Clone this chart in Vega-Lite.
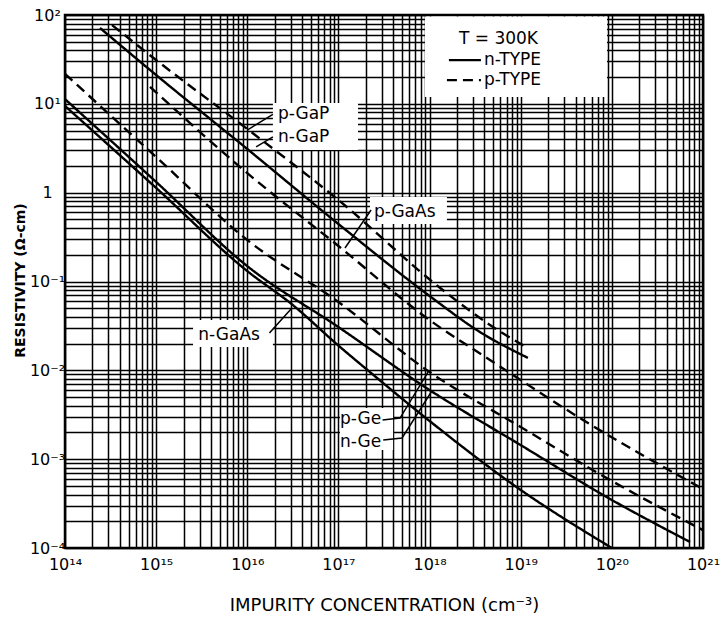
{
  "$schema": "https://vega.github.io/schema/vega-lite/v6.json",
  "width": 638,
  "height": 533,
  "autosize": {"type": "none"},
  "padding": {"left": 65, "top": 15, "right": 21, "bottom": 70},
  "background": "white",
  "config": {
    "view": {"stroke": "#000", "strokeWidth": 2.5},
    "font": "DejaVu Sans",
    "axis": {
      "grid": true, "gridColor": "#000", "gridWidth": 1.5, "gridOpacity": 1,
      "ticks": false, "domain": false, "labelColor": "#000", "titleColor": "#000",
      "labelFont": "DejaVu Sans", "titleFont": "DejaVu Sans",
      "labelOverlap": false, "labelBound": false, "labelFlush": false
    }
  },
  "datasets": {
    "curves": [
      {"curve": "p-GaP", "type": "p", "N": 3.28e14, "rho": 77.1},
      {"curve": "p-GaP", "type": "p", "N": 1e15, "rho": 31.1},
      {"curve": "p-GaP", "type": "p", "N": 1e16, "rho": 5.21},
      {"curve": "p-GaP", "type": "p", "N": 1e17, "rho": 0.826},
      {"curve": "p-GaP", "type": "p", "N": 1.3e18, "rho": 0.085},
      {"curve": "p-GaP", "type": "p", "N": 4.6e18, "rho": 0.0324},
      {"curve": "p-GaP", "type": "p", "N": 1.2e19, "rho": 0.0178},
      {"curve": "n-GaP", "type": "n", "N": 2.42e14, "rho": 71.4},
      {"curve": "n-GaP", "type": "n", "N": 1e15, "rho": 21.1},
      {"curve": "n-GaP", "type": "n", "N": 1e16, "rho": 3.10},
      {"curve": "n-GaP", "type": "n", "N": 1e17, "rho": 0.444},
      {"curve": "n-GaP", "type": "n", "N": 1e18, "rho": 0.0687},
      {"curve": "n-GaP", "type": "n", "N": 3.57e18, "rho": 0.0270},
      {"curve": "n-GaP", "type": "n", "N": 1.2e19, "rho": 0.0138},
      {"curve": "p-GaAs", "type": "p", "N": 8.57e14, "rho": 15.5},
      {"curve": "p-GaAs", "type": "p", "N": 1e16, "rho": 1.66},
      {"curve": "p-GaAs", "type": "p", "N": 1e17, "rho": 0.251},
      {"curve": "p-GaAs", "type": "p", "N": 1e18, "rho": 0.0368},
      {"curve": "p-GaAs", "type": "p", "N": 4.6e18, "rho": 0.0131},
      {"curve": "p-GaAs", "type": "p", "N": 4.83e19, "rho": 0.00276},
      {"curve": "p-GaAs", "type": "p", "N": 1e21, "rho": 0.000461},
      {"curve": "p-Ge", "type": "p", "N": 1e14, "rho": 21.7},
      {"curve": "p-Ge", "type": "p", "N": 1e15, "rho": 2.52},
      {"curve": "p-Ge", "type": "p", "N": 1e16, "rho": 0.293},
      {"curve": "p-Ge", "type": "p", "N": 1e17, "rho": 0.0587},
      {"curve": "p-Ge", "type": "p", "N": 1e18, "rho": 0.00957},
      {"curve": "p-Ge", "type": "p", "N": 1e19, "rho": 0.0023},
      {"curve": "p-Ge", "type": "p", "N": 1e20, "rho": 0.000568},
      {"curve": "p-Ge", "type": "p", "N": 1e21, "rho": 0.000159},
      {"curve": "n-Ge", "type": "n", "N": 1e14, "rho": 11.3},
      {"curve": "n-Ge", "type": "n", "N": 1e15, "rho": 1.32},
      {"curve": "n-Ge", "type": "n", "N": 1e16, "rho": 0.149},
      {"curve": "n-Ge", "type": "n", "N": 1e17, "rho": 0.0307},
      {"curve": "n-Ge", "type": "n", "N": 1e18, "rho": 0.0060},
      {"curve": "n-Ge", "type": "n", "N": 1e19, "rho": 0.00144},
      {"curve": "n-Ge", "type": "n", "N": 1e20, "rho": 0.000347},
      {"curve": "n-Ge", "type": "n", "N": 7.2e20, "rho": 0.000117},
      {"curve": "n-GaAs", "type": "n", "N": 1e14, "rho": 9.46},
      {"curve": "n-GaAs", "type": "n", "N": 1e15, "rho": 1.13},
      {"curve": "n-GaAs", "type": "n", "N": 1e16, "rho": 0.131},
      {"curve": "n-GaAs", "type": "n", "N": 3.16e16, "rho": 0.0543},
      {"curve": "n-GaAs", "type": "n", "N": 1e17, "rho": 0.019},
      {"curve": "n-GaAs", "type": "n", "N": 2.22e17, "rho": 0.00955},
      {"curve": "n-GaAs", "type": "n", "N": 1e18, "rho": 0.00269},
      {"curve": "n-GaAs", "type": "n", "N": 1e19, "rho": 0.00045},
      {"curve": "n-GaAs", "type": "n", "N": 1e20, "rho": 0.0001}
    ],
    "boxes": [
      {"box": "GaP", "N": 1.91e16, "N2": 1.64e17, "rho": 10.2, "rho2": 3.02},
      {"box": "pGaAs", "N": 2.22e17, "N2": 1.55e18, "rho": 0.893, "rho2": 0.444},
      {"box": "nGaAs", "N": 2.54e15, "N2": 1.91e16, "rho": 0.0368, "rho2": 0.0183},
      {"box": "Ge", "N": 1.04e17, "N2": 3.98e17, "rho": 0.00377, "rho2": 0.00127},
      {"box": "legend", "N": 8.9e17, "N2": 8.85e19, "rho": 96, "rho2": 11.9}
    ],
    "leaders": [
      {"id": "pGaP", "N": 1.91e16, "rho": 7.6},
      {"id": "pGaP", "N": 1e16, "rho": 5.07},
      {"id": "nGaP", "N": 1.91e16, "rho": 4.24},
      {"id": "nGaP", "N": 1.25e16, "rho": 3.27},
      {"id": "pGaAs", "N": 2.28e17, "rho": 0.638},
      {"id": "pGaAs", "N": 1.18e17, "rho": 0.238},
      {"id": "nGaAs", "N": 1.75e16, "rho": 0.0263},
      {"id": "nGaAs", "N": 3.09e16, "rho": 0.0504},
      {"id": "pGe", "N": 3.05e17, "rho": 0.00276},
      {"id": "pGe", "N": 4.74e17, "rho": 0.0029},
      {"id": "pGe", "N": 9.62e17, "rho": 0.00957},
      {"id": "nGe", "N": 3.1e17, "rho": 0.00164},
      {"id": "nGe", "N": 4.99e17, "rho": 0.00173},
      {"id": "nGe", "N": 1.06e18, "rho": 0.00585}
    ],
    "legendLines": [
      {"id": "ln", "type": "n", "N": 1.63e18, "rho": 31.1},
      {"id": "ln", "type": "n", "N": 3.66e18, "rho": 31.1},
      {"id": "lp", "type": "p", "N": 1.55e18, "rho": 18.5},
      {"id": "lp", "type": "p", "N": 3.66e18, "rho": 18.5}
    ],
    "labels": [
      {"label": "p-GaP", "N": 2.17e16, "rho": 7.6},
      {"label": "n-GaP", "N": 2.17e16, "rho": 4.24},
      {"label": "p-GaAs", "N": 2.45e17, "rho": 0.605},
      {"label": "n-GaAs", "N": 2.9e15, "rho": 0.025},
      {"label": "p-Ge", "N": 1.04e17, "rho": 0.00285},
      {"label": "n-Ge", "N": 1.04e17, "rho": 0.00158},
      {"label": "T = 300K", "N": 2.1e18, "rho": 53.7},
      {"label": "n-TYPE", "N": 3.95e18, "rho": 31.1},
      {"label": "p-TYPE", "N": 3.95e18, "rho": 18.5}
    ]
  },
  "encoding": {
    "x": {
      "field": "N", "type": "quantitative",
      "scale": {"type": "log", "domain": [1e14, 1e21], "nice": false},
      "axis": {
        "values": [1e14,2e14,3e14,4e14,5e14,6e14,7e14,8e14,9e14,1e15,2e15,3e15,4e15,5e15,6e15,7e15,8e15,9e15,1e16,2e16,3e16,4e16,5e16,6e16,7e16,8e16,9e16,1e17,2e17,3e17,4e17,5e17,6e17,7e17,8e17,9e17,1e18,2e18,3e18,4e18,5e18,6e18,7e18,8e18,9e18,1e19,2e19,3e19,4e19,5e19,6e19,7e19,8e19,9e19,1e20,2e20,3e20,4e20,5e20,6e20,7e20,8e20,9e20,1e21],
        "labelExpr": "datum.value == 1e14 ? '10¹⁴' : datum.value == 1e15 ? '10¹⁵' : datum.value == 1e16 ? '10¹⁶' : datum.value == 1e17 ? '10¹⁷' : datum.value == 1e18 ? '10¹⁸' : datum.value == 1e19 ? '10¹⁹' : datum.value == 1e20 ? '10²⁰' : datum.value == 1e21 ? '10²¹' : ''",
        "labelFontSize": 16, "labelPadding": 8,
        "title": "IMPURITY CONCENTRATION (cm⁻³)",
        "titleFontSize": 18, "titleFontWeight": "normal", "titlePadding": 24
      }
    },
    "y": {
      "field": "rho", "type": "quantitative",
      "scale": {"type": "log", "domain": [0.0001, 100], "nice": false},
      "axis": {
        "values": [0.0001,0.0002,0.0003,0.0004,0.0005,0.0006,0.0007,0.0008,0.0009,0.001,0.002,0.003,0.004,0.005,0.006,0.007,0.008,0.009,0.01,0.02,0.03,0.04,0.05,0.06,0.07,0.08,0.09,0.1,0.2,0.3,0.4,0.5,0.6,0.7,0.8,0.9,1,2,3,4,5,6,7,8,9,10,20,30,40,50,60,70,80,90,100],
        "labelExpr": "datum.value == 100 ? '10²' : datum.value == 10 ? '10¹' : datum.value == 1 ? '1' : datum.value == 0.1 ? '10⁻¹' : datum.value == 0.01 ? '10⁻²' : datum.value == 0.001 ? '10⁻³' : datum.value == 0.0001 ? '10⁻⁴' : ''",
        "labelFontSize": 16, "labelAlign": "center", "labelPadding": 18,
        "title": "RESISTIVITY (Ω-cm)",
        "titleFontSize": 14, "titleFontWeight": "bold",
        "titleX": -45, "titleY": 265, "titleAngle": -90,
        "titleAlign": "center", "titleBaseline": "middle"
      }
    }
  },
  "layer": [
    {
      "data": {"name": "boxes"},
      "mark": {"type": "rect", "fill": "white", "strokeWidth": 0},
      "encoding": {"x2": {"field": "N2"}, "y2": {"field": "rho2"}}
    },
    {
      "data": {"name": "curves"},
      "mark": {"type": "line", "color": "#000", "strokeWidth": 2.4, "interpolate": "monotone", "clip": true},
      "encoding": {
        "detail": {"field": "curve"},
        "strokeDash": {"field": "type", "type": "nominal", "scale": {"domain": ["n", "p"], "range": [[1, 0], [10, 6]]}, "legend": null}
      }
    },
    {
      "data": {"name": "leaders"},
      "mark": {"type": "line", "color": "#000", "strokeWidth": 1.5},
      "encoding": {"detail": {"field": "id"}}
    },
    {
      "data": {"name": "legendLines"},
      "mark": {"type": "line", "color": "#000", "strokeWidth": 2.2},
      "encoding": {
        "detail": {"field": "id"},
        "strokeDash": {"field": "type", "type": "nominal", "scale": {"domain": ["n", "p"], "range": [[1, 0], [10, 6]]}, "legend": null}
      }
    },
    {
      "data": {"name": "labels"},
      "mark": {"type": "text", "align": "left", "baseline": "middle", "fontSize": 17, "color": "#000", "font": "DejaVu Sans"},
      "encoding": {"text": {"field": "label"}}
    }
  ]
}
